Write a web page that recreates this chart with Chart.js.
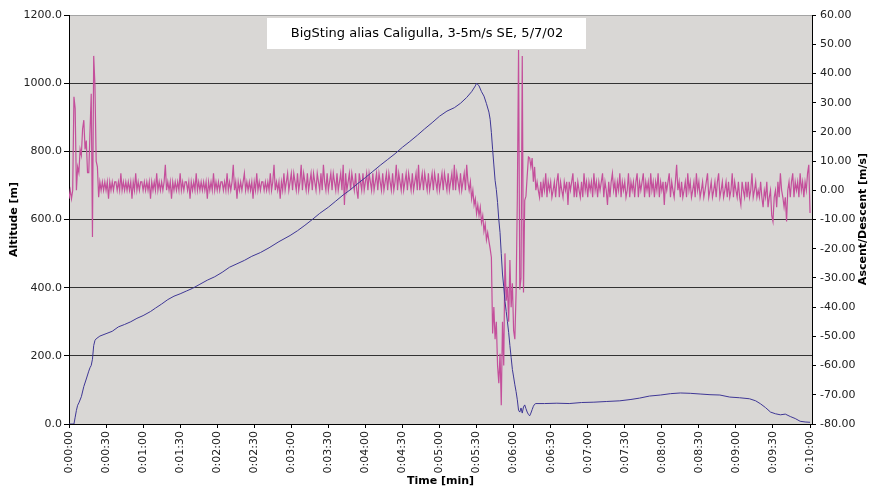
<!DOCTYPE html>
<html>
<head>
<meta charset="utf-8">
<title>BigSting alias Caligulla</title>
<script src="https://cdn.jsdelivr.net/npm/chart.js@4"></script>
<style>
  html, body { margin: 0; padding: 0; background: #fff; }
  #wrap { width: 871px; height: 488px; }
</style>
</head>
<body>
<div id="wrap"><canvas id="myChart"></canvas></div>
<script>
const chartTitle = 'BigSting alias Caligulla, 3-5m/s SE, 5/7/02'
const altTitle = 'Altitude [m]'
const varioTitle = 'Ascent/Descent [m/s]'
const timeTitle = 'Time [min]'

const timeLabels = ['0:00:00', '0:00:30', '0:01:00', '0:01:30', '0:02:00', '0:02:30', '0:03:00',
    '0:03:30', '0:04:00', '0:04:30', '0:05:00', '0:05:30', '0:06:00', '0:06:30', '0:07:00',
    '0:07:30', '0:08:00', '0:08:30', '0:09:00', '0:09:30', '0:10:00']

const altTimes = [0, 4, 5, 6, 7, 8, 10, 12, 14, 16, 17, 18, 19, 20, 21, 22, 25, 30, 35, 40,
    45, 50, 55, 60, 66, 70, 75, 80, 85, 90, 95, 100, 106, 112, 118, 124, 130, 136, 142, 148,
    155, 162, 170, 179, 185, 191, 197, 203, 210, 216, 222, 228, 234, 240, 246, 252, 258, 264, 270, 276,
    282, 288, 294, 300, 306, 312, 317, 322, 326, 329, 330, 332, 334, 336, 338, 340, 341, 342, 343, 344,
    345, 346, 347, 348, 349, 350, 351, 352, 353, 354, 355, 356, 357, 358, 359, 360, 361, 362, 363, 364,
    365, 366, 367, 368, 369, 370, 371, 372, 373, 374, 375, 376, 377, 378, 385, 395, 405, 415, 425, 435,
    446, 455, 462, 470, 479, 487, 495, 503, 511, 519, 527, 535, 543, 551, 556, 560, 564, 568, 572, 576,
    580, 584, 588, 592, 596, 600]
const altValues = [0, 0, 20, 40, 55, 62, 80, 110, 132, 155, 165, 172, 190, 230, 245, 250, 258, 265, 272, 285,
    292, 300, 310, 318, 330, 340, 352, 365, 375, 382, 390, 398, 410, 422, 432, 445, 460, 470, 480, 492,
    503, 517, 535, 553, 567, 583, 600, 618, 636, 654, 672, 688, 706, 723, 741, 759, 776, 793, 812, 829,
    847, 866, 884, 903, 918, 928, 941, 958, 975, 992, 1000, 992, 975, 962, 940, 915, 894, 855, 806, 760,
    715, 688, 650, 600, 562, 500, 440, 403, 360, 330, 300, 268, 230, 195, 160, 138, 115, 95, 71, 40,
    35, 47, 32, 50, 56, 45, 35, 28, 24, 32, 42, 52, 58, 60, 60, 61, 60, 63, 64, 66,
    68, 72, 76, 82, 85, 89, 91, 90, 88, 86, 85, 79, 77, 74, 68, 59, 48, 35, 30, 27,
    29, 22, 16, 8, 6, 5]

// ascent/descent [m/s], one sample per second from 0:00:00
const varioValues = [
    -2.9, 0, -2.9, 0, 32, 28, 0, 8, 6, 14,
    12, 21, 24, 14, 17, 6, 6, 20, 33, -16,
    46, 36, 10, 8, -2.4, 2.9, 0, 2.9, 0, 2.9,
    0, 2.9, -2.9, 2.9, 0, 2.9, 0, 2.9, 2.9, 0,
    2.9, 0, 5.8, 0, 2.9, 0, 2.9, 0, 2.9, 0,
    2.9, -2.9, 2.9, 0, 5.8, 0, 2.9, 0, 2.9, 2.9,
    0, 2.9, 0, 2.9, 0, 2.9, -2.9, 2.9, 0, 2.9,
    0, 5.8, 0, 2.9, 0, 2.9, 0, 2.9, 8.7, 0,
    2.9, 0, 2.9, -2.9, 2.9, 0, 2.9, 0, 2.9, 0,
    5.8, 0, 2.9, 0, 2.9, 2.9, 0, 2.9, -2.9, 2.9,
    0, 2.9, 0, 5.8, 0, 2.9, 0, 2.9, 0, 2.9,
    0, 2.9, -2.9, 2.9, 0, 2.9, 0, 5.8, 0, 2.9,
    0, 2.9, 0, 2.9, 2.9, 0, 2.9, 0, 5.8, 0,
    2.9, 0, 2.9, 8.7, 0, 2.9, -2.9, 2.9, 0, 2.9,
    0, 2.9, 5.8, 0, 2.9, 0, 2.9, 0, 2.9, -2.9,
    2.9, 0, 5.8, 0, 2.9, 0, 2.9, 2.9, 0, 2.9,
    0, 2.9, 0, 5.8, 0, 2.9, 8.7, 0, 2.9, 0,
    2.9, -2.9, 2.9, 0, 5.8, 0, 2.9, 5.8, 0, 2.9,
    5.8, 0, 5.8, 2.9, 0, 5.8, 0, 2.9, 8.7, 0,
    5.8, 2.9, 0, 5.8, 0, 2.9, 5.8, 0, 5.8, 2.9,
    0, 5.8, 2.9, 0, 5.8, 0, 8.7, 2.9, 0, 5.8,
    0, 2.9, 5.8, 0, 5.8, 2.9, 0, 5.8, 0, 2.9,
    5.8, 0, 8.7, -5, 5.8, 0, 2.9, 5.8, 0, 5.8,
    2.9, 0, 5.8, 0, -2.9, 5.8, 2.9, 0, 5.8, 0,
    2.9, 5.8, 0, 5.8, 2.9, 0, 5.8, 0, 2.9, 5.8,
    0, 5.8, 2.9, 0, 5.8, 0, 2.9, 5.8, 0, 5.8,
    2.9, 0, 5.8, 0, 2.9, 8.7, 0, 5.8, 2.9, 0,
    5.8, 0, 2.9, 5.8, 0, 5.8, 2.9, 0, 5.8, 0,
    2.9, 5.8, 0, 8.7, 0, 2.9, 5.8, 0, 5.8, 2.9,
    0, 5.8, 0, 2.9, 5.8, 0, 5.8, 2.9, 0, 5.8,
    0, 2.9, 5.8, 0, 5.8, 2.9, 0, 5.8, 0, 2.9,
    5.8, 0, 8.7, 0, 5.8, 2.9, 0, 5.8, 0, 2.9,
    5.8, 0, 8.7, 2.9, 0, 2.9, -2.9, 0, -5, -2.9,
    -8, -5, -8.7, -5.8, -11, -8.7, -14, -11.6, -17, -14.5,
    -17.4, -20, -23, -49, -40, -51, -45, -60, -66, -56,
    -73.6, -45, -60, -21.6, -37.8, -33, -45, -23.9, -40, -31.8,
    -48, -51, -35, -3, 48, -34, -30, 46, -35, -3.4,
    -2, 5, 11.4, 11, 8, 11, 2.9, 8, 0, 2.9,
    0, -2.4, 2.9, -2.4, 2.9, 0, 5.8, -2.4, 2.9, 0,
    2.9, -2.4, 0, 2.9, -2.4, 2.9, 5.8, -2.4, 2.9, 0,
    -2.4, 2.9, 0, 2.9, -5, 2.9, 0, 2.9, 5.8, -2.4,
    2.9, -2.4, 2.9, 0, -2.4, 2.9, -2.4, 5.8, 0, 2.9,
    -2.4, 2.9, 0, 2.9, -2.4, 5.8, 0, 2.9, -2.4, 2.9,
    0, 2.9, 5.8, -2.4, 2.9, 0, -5, 2.9, -2.4, 2.9,
    5.8, 0, 2.9, -2.4, 2.9, 0, 5.8, -2.4, 2.9, 0,
    2.9, -2.4, 0, 5.8, -2.4, 2.9, 0, 2.9, -2.4, 2.9,
    5.8, -2.4, 2.9, 0, 2.9, 5.8, -2.4, 2.9, 0, 2.9,
    -2.4, 5.8, 0, 2.9, -2.4, 2.9, 0, 5.8, -2.4, 2.9,
    0, 2.9, -5, 2.9, 0, 2.9, 5.8, -2.4, 2.9, 0,
    -2.4, 2.9, 8.7, 0, 2.9, -2.4, 2.9, -2.4, 0, 2.9,
    -2.4, 5.8, 0, 2.9, -2.4, 0, 2.9, -2.4, 5.8, 0,
    2.9, -2.4, 0, 2.9, -2.4, 0, 2.9, 5.8, -2.4, 0,
    2.9, -2.4, 0, 2.9, -2.4, 2.9, 5.8, -2.4, 0, 2.9,
    -2.4, 0, 2.9, -2.4, 2.9, -2.4, 0, 5.8, -2.4, 2.9,
    0, -2.4, 2.9, -2.4, -5, 2.9, 0, -2.4, 2.9, -2.4,
    2.9, -2.4, 0, 5.8, -2.4, 0, 2.9, -2.4, 0, -2.4,
    2.9, -2.4, -5.8, 0, -2.4, 2.9, -5.8, -2.4, 0, -8.7,
    -10.7, -2.4, 0, -5.8, 2.9, -2.4, 5.8, 0, -2.4, -5.8,
    -2.4, -10.7, 0, 2.9, -2.4, 2.9, 5.8, -2.4, 2.9, 0,
    2.9, -2.4, 5.8, 0, 2.9, -2.4, 2.9, 0, 5.8, 8.7,
    -7.8
]

const font = 'DejaVu Sans'

// grey plot area like the old excel charts
const plotBg = {
    id: 'plotBg',
    beforeDraw(chart) {
        const {ctx, chartArea: a} = chart
        ctx.save()
        ctx.fillStyle = '#fff'
        ctx.fillRect(0, 0, chart.width, chart.height)
        ctx.fillStyle = '#d9d7d5'
        ctx.fillRect(a.left, a.top, a.width, a.height)
        ctx.restore()
    }
}

// title box inside the plot + right axis title (reads bottom to top)
const extras = {
    id: 'extras',
    afterDatasetsDraw(chart) {
        const ctx = chart.ctx
        ctx.save()
        ctx.fillStyle = '#fff'
        ctx.fillRect(267, 18, 319, 31)
        ctx.fillStyle = '#000'
        ctx.font = '13px "' + font + '"'
        ctx.textAlign = 'center'
        ctx.textBaseline = 'middle'
        ctx.fillText(chartTitle, 427, 34)
        ctx.translate(863, 219)
        ctx.rotate(-Math.PI / 2)
        ctx.font = 'bold 11px "' + font + '"'
        ctx.fillText(varioTitle, 0, 0)
        ctx.restore()
    }
}

const tickFont = {family: font, size: 11}
const titleFont = {family: font, size: 11, weight: 'bold'}

const ctx = document.getElementById('myChart').getContext('2d')
const myChart = new Chart(ctx, {
    type: 'line',
    data: {
        datasets: [
            {
                label: altTitle,
                data: altTimes.map((t, i) => ({x: t, y: altValues[i]})),
                yAxisID: 'y',
                borderColor: '#3f3796',
                borderWidth: 1,
                pointRadius: 0,
                tension: 0
            },
            {
                label: varioTitle,
                data: varioValues.map((v, i) => ({x: i, y: v})),
                yAxisID: 'y1',
                borderColor: '#c44f9b',
                borderWidth: 1.2,
                pointRadius: 0,
                tension: 0
            }
        ]
    },
    options: {
        responsive: true,
        maintainAspectRatio: false,
        animation: false,
        layout: {padding: {top: 15, left: 0, right: 0, bottom: 0}},
        plugins: {
            legend: {display: false},
            tooltip: {enabled: false}
        },
        scales: {
            x: {
                type: 'linear',
                min: 0,
                max: 601.6,
                afterFit: s => { s.height = 64 },
                border: {color: '#000', width: 1},
                grid: {drawOnChartArea: false, tickLength: 4, color: '#000'},
                ticks: {
                    stepSize: 30,
                    includeBounds: false,
                    autoSkip: false,
                    minRotation: 90,
                    maxRotation: 90,
                    padding: 3,
                    color: '#222',
                    font: tickFont,
                    callback: v => timeLabels[Math.round(v / 30)]
                },
                title: {display: true, text: timeTitle, color: '#000', font: titleFont, padding: {top: 0, bottom: 0}}
            },
            y: {
                position: 'left',
                min: 0,
                max: 1200,
                afterFit: s => { s.width = 69 },
                border: {color: '#000', width: 1},
                grid: {
                    color: c => c.tick && c.tick.value === 1200 ? '#a4a4a4' : '#333',
                    tickColor: '#000',
                    tickLength: 5
                },
                ticks: {stepSize: 200, padding: 2, color: '#222', font: tickFont, callback: v => v.toFixed(1)},
                title: {display: true, text: altTitle, color: '#000', font: titleFont, padding: {top: 8, bottom: 0}}
            },
            y1: {
                position: 'right',
                min: -80,
                max: 60,
                afterFit: s => { s.width = 59 },
                border: {color: '#000', width: 1},
                grid: {drawOnChartArea: false, tickLength: 4, color: '#000'},
                ticks: {stepSize: 10, padding: 4, color: '#222', font: tickFont, callback: v => v.toFixed(2)}
            }
        }
    },
    plugins: [plotBg, extras]
})
</script>
</body>
</html>
